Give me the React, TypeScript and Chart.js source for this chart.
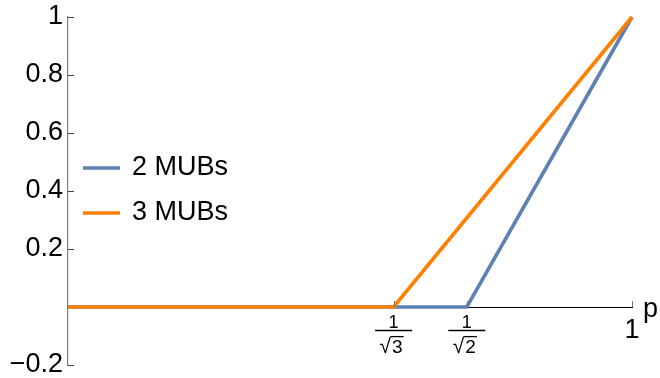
import React, { useEffect, useRef } from 'react';
import { Chart, registerables } from 'chart.js';

Chart.register(...registerables);

// ---- data ----
const seriesLabels = ['2 MUBs', '3 MUBs'];
const seriesColors = ['#5e81b5', '#ff8000'];
const mub2X = [0, 0.70711, 1];
const mub2Y = [0, 0, 1];
const mub3X = [0, 0.57735, 1];
const mub3Y = [0, 0, 1];
const yTickValues = [-0.2, 0, 0.2, 0.4, 0.6, 0.8, 1];
const xTickValues = [0.57735, 0.70711, 1];
const xTickNumerators = ['1', '1', ''];
const xTickRadicands = ['3', '2', ''];
const xTickPlain = ['', '', '1'];
const xAxisTitle = 'p';

const FONT = "'Liberation Sans', Arial, sans-serif";
const MAIN_SIZE = 27;

const overlayPlugin = {
  id: 'overlay',
  afterDraw(chart: any) {
    const ctx = chart.ctx as CanvasRenderingContext2D;
    const xs = chart.scales.x;
    const ys = chart.scales.y;
    const y0 = ys.getPixelForValue(0);
    const x0 = xs.getPixelForValue(0);
    ctx.save();

    // y ticks (inward, pointing right)
    ctx.strokeStyle = '#444';
    ctx.lineWidth = 1;
    yTickValues.forEach((v) => {
      if (v === 0) return;
      const py = Math.round(ys.getPixelForValue(v)) + 0.5;
      ctx.beginPath();
      ctx.moveTo(x0, py);
      ctx.lineTo(x0 + 6, py);
      ctx.stroke();
    });

    // x ticks (pointing up)
    ctx.strokeStyle = '#777';
    xTickValues.forEach((v) => {
      const px = Math.round(xs.getPixelForValue(v)) + 0.5;
      ctx.beginPath();
      ctx.moveTo(px, y0);
      ctx.lineTo(px, y0 - 6);
      ctx.stroke();
    });

    // x tick labels
    ctx.fillStyle = '#000';
    xTickValues.forEach((v, i) => {
      const cx = xs.getPixelForValue(v);
      if (xTickPlain[i]) {
        ctx.font = `${MAIN_SIZE}px ${FONT}`;
        ctx.textAlign = 'center';
        ctx.textBaseline = 'alphabetic';
        ctx.fillText(xTickPlain[i], cx, y0 + 31);
        return;
      }
      // numerator
      ctx.font = `18px ${FONT}`;
      ctx.textAlign = 'center';
      ctx.textBaseline = 'alphabetic';
      ctx.fillText(xTickNumerators[i], cx, y0 + 21);
      // fraction bar
      ctx.strokeStyle = '#000';
      ctx.lineWidth = 1.3;
      ctx.beginPath();
      ctx.moveTo(cx - 18.5, y0 + 23.5);
      ctx.lineTo(cx + 18.5, y0 + 23.5);
      ctx.stroke();
      // denominator: radical + radicand
      ctx.textAlign = 'left';
      ctx.font = `21px ${FONT}`;
      const rad = '\u221A';
      const m = ctx.measureText(rad);
      const radW = m.width;
      ctx.font = `19px ${FONT}`;
      const numW = ctx.measureText(xTickRadicands[i]).width;
      const total = radW + numW + 2;
      const sx = cx - total / 2 - 2;
      const base = y0 + 46;
      ctx.font = `21px ${FONT}`;
      ctx.fillText(rad, sx, base);
      const topY = base - m.actualBoundingBoxAscent;
      ctx.font = `19px ${FONT}`;
      ctx.fillText(xTickRadicands[i], sx + radW + 1, base);
      ctx.lineWidth = 1.3;
      ctx.beginPath();
      ctx.moveTo(sx + radW - 0.5, topY + 0.6);
      ctx.lineTo(sx + radW + numW + 2, topY + 0.6);
      ctx.stroke();
    });

    // axis title
    ctx.font = `${MAIN_SIZE}px ${FONT}`;
    ctx.textAlign = 'left';
    ctx.textBaseline = 'alphabetic';
    ctx.fillText(xAxisTitle, xs.right + 11, y0 + 10);

    // legend
    const lx = chart.chartArea.left + 15;
    const legendRows = [168, 213];
    seriesLabels.forEach((label, i) => {
      const ly = legendRows[i];
      ctx.strokeStyle = seriesColors[i];
      ctx.lineWidth = 3.6;
      ctx.beginPath();
      ctx.moveTo(lx, ly);
      ctx.lineTo(lx + 37, ly);
      ctx.stroke();
      ctx.fillStyle = '#000';
      ctx.font = `${MAIN_SIZE}px ${FONT}`;
      ctx.textAlign = 'left';
      ctx.textBaseline = 'alphabetic';
      ctx.fillText(label, lx + 49, ly + 7);
    });

    ctx.restore();
  },
};

export default function App() {
  const canvasRef = useRef<HTMLCanvasElement | null>(null);

  useEffect(() => {
    if (!canvasRef.current) return;
    const toPoints = (xs: number[], ys: number[]) => xs.map((x, i) => ({ x, y: ys[i] }));
    const chart = new Chart(canvasRef.current, {
      type: 'line',
      data: {
        datasets: [
          {
            label: seriesLabels[0],
            data: toPoints(mub2X, mub2Y),
            borderColor: seriesColors[0],
            backgroundColor: seriesColors[0],
            borderWidth: 3.6,
            pointRadius: 0,
            tension: 0,
            clip: false as any,
            order: 0,
          },
          {
            label: seriesLabels[1],
            data: toPoints(mub3X, mub3Y),
            borderColor: seriesColors[1],
            backgroundColor: seriesColors[1],
            borderWidth: 3.6,
            pointRadius: 0,
            tension: 0,
            clip: false as any,
            order: -1,
          },
        ],
      },
      options: {
        animation: false,
        responsive: true,
        maintainAspectRatio: false,
        layout: { padding: { left: 8, right: 28, top: 17, bottom: 13 } },
        plugins: {
          legend: { display: false },
          tooltip: { enabled: false },
        },
        scales: {
          x: {
            type: 'linear',
            min: 0,
            max: 1,
            position: { y: 0 } as any,
            z: 1,
            grid: { display: false, drawTicks: false },
            border: { display: true, color: '#000', width: 1 },
            ticks: { display: false },
            afterFit: (scale: any) => {
              scale.paddingLeft = 0;
              scale.paddingRight = 0;
            },
          },
          y: {
            type: 'linear',
            min: -0.2,
            max: 1,
            position: 'left',
            grid: { display: false, drawTicks: false },
            border: { display: true, color: '#808080', width: 1.2 },
            afterBuildTicks: (scale: any) => {
              scale.ticks = yTickValues.map((v) => ({ value: v }));
            },
            afterFit: (scale: any) => {
              scale.width = 60;
              scale.paddingTop = 0;
              scale.paddingBottom = 0;
            },
            ticks: {
              padding: 5,
              color: '#000',
              font: { family: FONT, size: MAIN_SIZE },
              callback: (v: any) => {
                const n = Math.round(Number(v) * 10) / 10;
                if (n === 0) return '';
                if (n < 0) return '\u2212' + String(Math.abs(n));
                return String(n);
              },
            },
          },
        },
      },
      plugins: [overlayPlugin],
    });
    return () => chart.destroy();
  }, []);

  return (
    <div style={{ position: 'absolute', left: 0, top: 0, width: 660, height: 378 }}>
      <canvas ref={canvasRef} />
    </div>
  );
}
